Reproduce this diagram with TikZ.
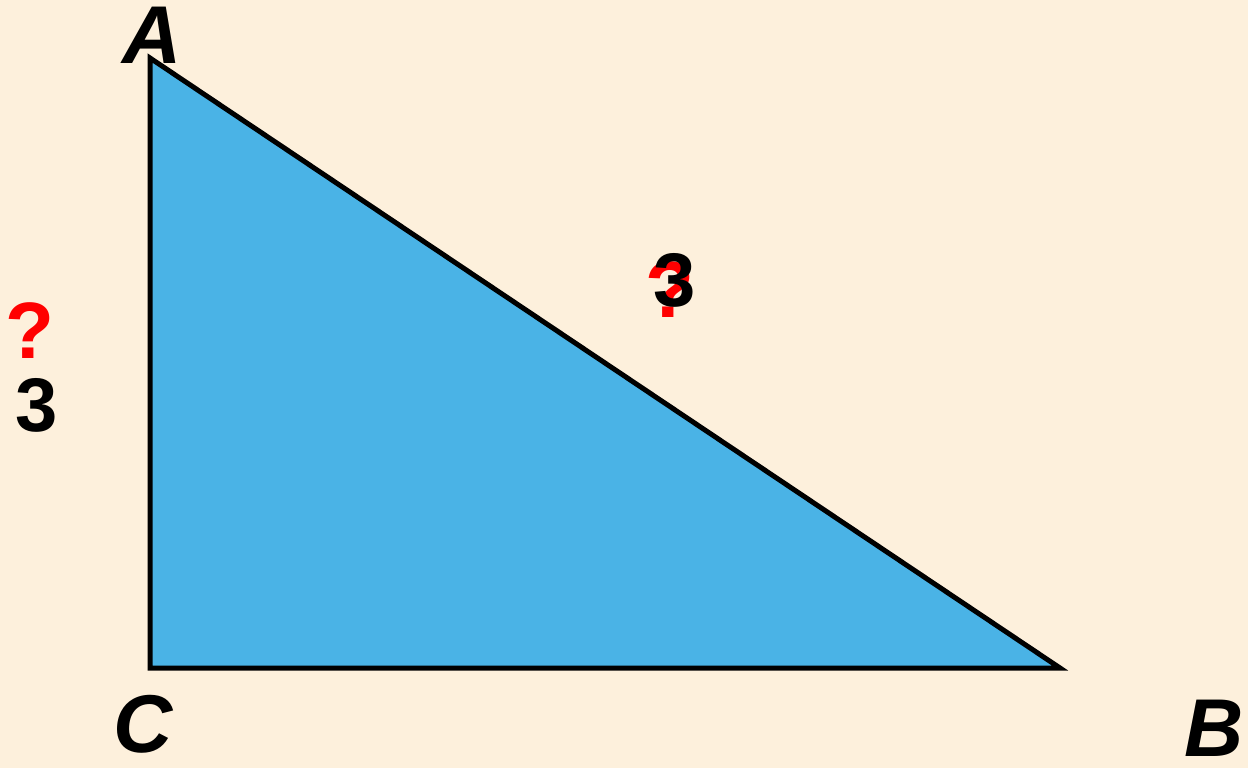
\documentclass[tikz,border=0pt]{standalone}
\usepackage{fontspec}
\setmainfont{Liberation Sans}
\usepackage{xcolor}
\usetikzlibrary{positioning}
\definecolor{paper}{HTML}{FDF0DC}
\definecolor{skyfill}{HTML}{4AB3E6}
\tikzset{
    vertex/.style={font=\fontsize{82}{82}\selectfont\bfseries\itshape, inner sep=0pt},
    num/.style={font=\fontsize{76}{76}\selectfont\bfseries, inner sep=0pt},
    ask/.style={font=\fontsize{80}{80}\selectfont\bfseries, text=red, inner sep=0pt}
}
\begin{document}
\begin{tikzpicture}[x=1pt, y=-1pt]
    \fill[paper] (0, 0) rectangle (1248, 768);
    \useasboundingbox (0, 0) rectangle (1248, 768);

    \coordinate (A) at (150, 58);
    \coordinate (C) at (150, 668);
    \coordinate (B) at (1060, 668);

    \filldraw[fill=skyfill, draw=black, line width=5pt, miter limit=20] (A) -- (B) -- (C) -- cycle;

    \node[vertex] (labA) at (152, 35) {A};
    \node[vertex] (labC) at (143, 724) {C};
    \node[vertex] (labB) at (1214, 728) {B};

    % side AC
    \node[ask] (askAC) at (30, 331) {?};
    \node[num] (numAC) at (37, 405) {3};

    % side AB
    \node[ask] (askAB) at (670, 290) {?};
    \node[num] (numAB) at (675, 280) {3};
\end{tikzpicture}
\end{document}
